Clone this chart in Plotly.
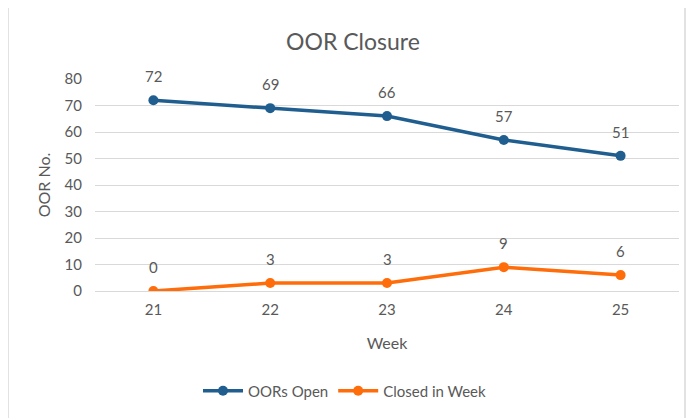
import plotly.graph_objects as go

weeks = ["21", "22", "23", "24", "25"]
oors_open = [72, 69, 66, 57, 51]
closed_in_week = [0, 3, 3, 9, 6]
y_ticks = [0, 10, 20, 30, 40, 50, 60, 70, 80]

BLUE = "#1F5E8F"
ORANGE = "#FF6C0A"
GRAY = "#595959"
FONT = "Lato, Liberation Sans, sans-serif"

# page body has an 8px margin; compensate
OFF = 8
L, R, T, B = 95 - OFF, 694 - (679 - OFF), 79 - OFF, 418 - (291 - OFF)

fig = go.Figure()
fig.add_trace(go.Scatter(x=weeks, y=oors_open, name="OORs Open", mode="lines+markers",
                         line=dict(color=BLUE, width=3.5), marker=dict(size=10, color=BLUE)))
fig.add_trace(go.Scatter(x=weeks, y=closed_in_week, name="Closed in Week", mode="lines+markers",
                         line=dict(color=ORANGE, width=3.5), marker=dict(size=10, color=ORANGE)))

annotations = []
for series in (oors_open, closed_in_week):
    for i, v in enumerate(series):
        annotations.append(dict(x=i, y=v, xref="x", yref="y", text=str(v), showarrow=False, yshift=24,
                                font=dict(size=15, color=GRAY, family=FONT)))

fig.update_layout(
    width=694, height=418,
    margin=dict(l=L, r=R, t=T, b=B, autoexpand=False),
    paper_bgcolor="white", plot_bgcolor="white",
    font=dict(family=FONT, color=GRAY, size=15),
    title=dict(text="OOR Closure", x=(353 - OFF) / 694, xref="container", xanchor="center",
               y=1 - (42 - OFF) / 418, yanchor="middle",
               font=dict(size=23, color=GRAY, family=FONT)),
    showlegend=True,
    legend=dict(orientation="h", xref="paper", x=(345 - 95) / 584, xanchor="center",
                y=(291 - 391) / 212, yanchor="middle",
                font=dict(size=15, color=GRAY), itemwidth=40),
    annotations=annotations,
    shapes=[dict(type="rect", xref="paper", yref="paper",
                 x0=(8 - 95) / 584, x1=(685 - 95) / 584,
                 y0=(291 - 440) / 212, y1=(291 - 6) / 212,
                 line=dict(color="#D9D9D9", width=1.5), fillcolor="rgba(0,0,0,0)", layer="below")],
)
fig.update_xaxes(type="category", range=[-0.5, 4.5], showgrid=False, showline=False, ticks="",
                 title=dict(text="Week", font=dict(size=16, color=GRAY), standoff=20),
                 tickfont=dict(size=15, color=GRAY), ticklabelstandoff=8)
fig.update_yaxes(range=[0, 80], tickvals=y_ticks, showgrid=True, gridcolor="#D9D9D9", gridwidth=1,
                 zeroline=True, zerolinecolor="#D9D9D9", zerolinewidth=1, showline=False, ticks="",
                 title=dict(text="OOR No.", font=dict(size=16, color=GRAY), standoff=9),
                 tickfont=dict(size=15, color=GRAY), ticklabelstandoff=12)

fig.write_html("out.html")
